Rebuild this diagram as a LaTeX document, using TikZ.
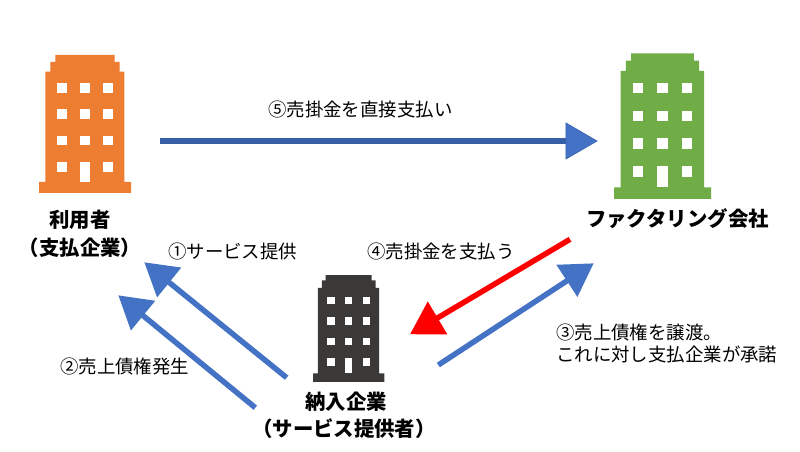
\documentclass[tikz,border=0pt]{standalone}
\usepackage{fontspec}
\setmainfont{Noto Sans CJK JP}
\usetikzlibrary{arrows.meta}
\definecolor{bldorange}{HTML}{ED7D31}
\definecolor{bldgreen}{HTML}{70AD47}
\definecolor{blddark}{HTML}{3B3838}
\definecolor{flowblue}{HTML}{4472C4}
\definecolor{flowdark}{HTML}{3560A8}
\tikzset{
  building/.pic={
    \fill[#1] (0,138) -- (0,127) -- (6.3,127) -- (6.3,16.7) -- (11.3,16.7) -- (11.3,7)
      -- (16.3,7) -- (16.3,0) -- (75.7,0) -- (75.7,7) -- (80.7,7) -- (80.7,16.7)
      -- (85.3,16.7) -- (85.3,127) -- (92,127) -- (92,138) -- cycle;
    \foreach \wy in {28,54.3,80.7,107.3}
      \foreach \wx in {18,41,64.3}
        \fill[white] (\wx,\wy) rectangle ++(9.8,9.7);
    \fill[white] (41,107.3) rectangle (50.8,127);
  },
  flow/.style={line width=3.9pt,-{Triangle[length=22.8pt,width=26.3pt]},flowblue},
  lbl/.style={font=\fontsize{13.1}{16}\selectfont,inner sep=0pt},
  orgname/.style={font=\fontsize{14.5}{17}\selectfont\bfseries,inner sep=0pt}
}
\begin{document}
\begin{tikzpicture}[x=0.025cm,y=-0.025cm]
\useasboundingbox (0,0) rectangle (800,452);
\pic at (39,55) {building=bldorange};
\pic[scale=1.055] at (614,53.3) {building=bldgreen};
\pic[scale=0.775] at (313,275) {building=blddark};

\node[orgname] (user) at (80,220) {利用者};
\node[orgname] (userb) at (80,248) {（支払企業）};
\node[orgname] (factor) at (677.5,219) {ファクタリング会社};
\node[orgname] (vendor) at (346,402) {納入企業};
\node[orgname] (vendorb) at (344,429) {（サービス提供者）};

\coordinate (a1) at (286.7,377.7);
\coordinate (b1) at (144.3,262.3);
\coordinate (a2) at (255.3,407.7);
\coordinate (b2) at (118.3,295.3);
\coordinate (a3) at (438.3,365);
\coordinate (b3) at (593.7,263.3);
\coordinate (a4) at (570,239.3);
\coordinate (b4) at (410,334.3);
\coordinate (a5) at (160,141);
\coordinate (b5) at (597.7,141);

\draw[flow] (a1) -- (b1);
\draw[flow] (a2) -- (b2);
\draw[flow] (a3) -- (b3);
\draw[flow,red] (a4) -- (b4);
\draw[flow,flowdark,-{Triangle[length=22.8pt,width=26.3pt,fill=flowblue,line width=0.4pt]}] (a5) -- (b5);

\node[lbl,anchor=west] (step1) at (168,251) {①サービス提供};
\node[lbl,anchor=west] (step2) at (60,366) {②売上債権発生};
\node[lbl,anchor=west,align=left] (step3) at (556,343.5) {③売上債権を譲渡。\\これに対し支払企業が承諾};
\node[lbl,anchor=west] (step4) at (367,251) {④売掛金を支払う};
\node[lbl,anchor=west] (step5) at (268,110) {⑤売掛金を直接支払い};
\end{tikzpicture}
\end{document}
